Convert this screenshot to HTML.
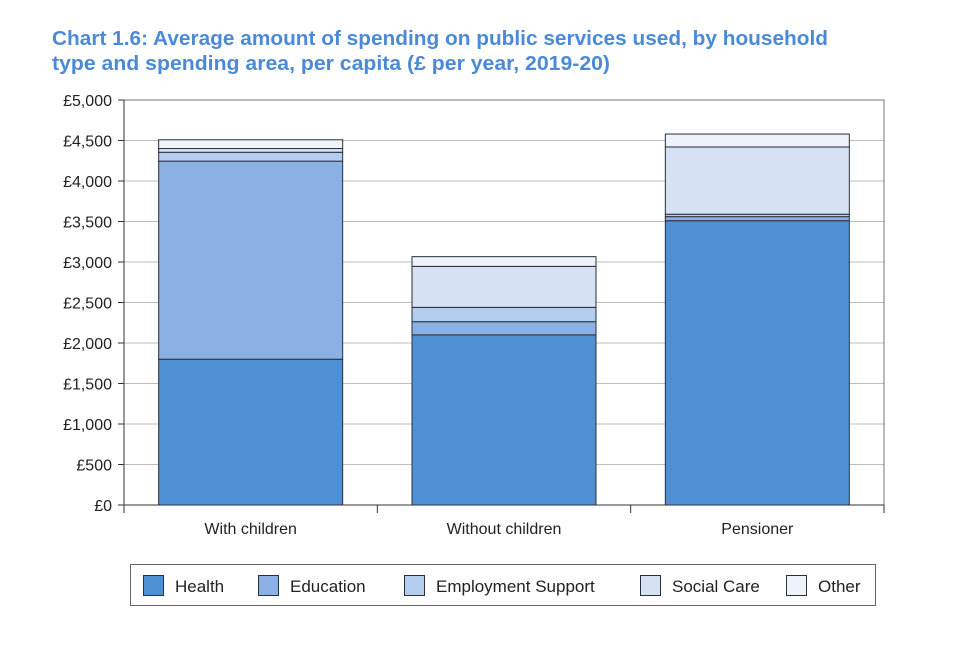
<!DOCTYPE html>
<html><head><meta charset="utf-8"><style>
body{margin:0;background:#fff;width:960px;height:640px;overflow:hidden;font-family:"Liberation Sans",sans-serif}
</style></head><body>
<svg width="960" height="640" xmlns="http://www.w3.org/2000/svg">
<text x="52" y="45" font-size="20" font-weight="bold" fill="#4a8ad8" textLength="776" lengthAdjust="spacingAndGlyphs">Chart 1.6: Average amount of spending on public services used, by household</text>
<text x="52" y="70" font-size="20" font-weight="bold" fill="#4a8ad8" textLength="558" lengthAdjust="spacingAndGlyphs">type and spending area, per capita (£ per year, 2019-20)</text>
<g id="grid"></g><g id="bars"></g><g id="axes"></g><g id="legend"></g>
</svg>
<script>
const categories=["With children","Without children","Pensioner"];
const seriesNames=["Health","Education","Employment Support","Social Care","Other"];
const health=[1800,2100,3510];
const education=[2445,163,50];
const employment=[110,177,30];
const socialCare=[46,506,830];
const other=[108,120,160];
const yTicks=[0,500,1000,1500,2000,2500,3000,3500,4000,4500,5000];
const colors=["#4f90d4","#8bb0e3","#b2cdee","#d6e1f3","#eef2f9"];
const NS="http://www.w3.org/2000/svg";
const L=124,R=884,T=100,B=505,YMAX=5000;
const y=v=>B-(v/YMAX)*(B-T);
const cw=(R-L)/categories.length;
const bw=184;
function mk(tag,attrs,parent){const e=document.createElementNS(NS,tag);for(const k in attrs)e.setAttribute(k,attrs[k]);parent.appendChild(e);return e;}
const grid=document.getElementById('grid'),bars=document.getElementById('bars'),axes=document.getElementById('axes'),leg=document.getElementById('legend');
yTicks.forEach(t=>{
  const g=mk('line',{x1:L,x2:R,y1:y(t),y2:y(t),stroke:'#bdbdbd','stroke-width':1},grid);
  
  
  const tk=mk('line',{x1:L-6,x2:L,y1:y(t),y2:y(t),stroke:'#333'},axes);
  
  
  const tx=mk('text',{x:L-12,y:y(t)+6,'text-anchor':'end','font-size':16,fill:'#222'},axes);
  tx.textContent='£'+t.toLocaleString('en-GB');
  
  
});
const frame=mk('rect',{x:L,y:T,width:R-L,height:B-T,fill:'none',stroke:'#777'},axes);


const ya=mk('line',{x1:L,x2:L,y1:T,y2:B,stroke:'#333'},axes);


const xa=mk('line',{x1:L,x2:R,y1:B,y2:B,stroke:'#333'},axes);


for(let i=0;i<=categories.length;i++){
  const t=mk('line',{x1:L+i*cw,x2:L+i*cw,y1:B,y2:B+8,stroke:'#333'},axes);
  
  
}
const series=[health,education,employment,socialCare,other];
categories.forEach((c,i)=>{
  const cx=L+cw*(i+0.5);let acc=0;
  series.forEach((s,j)=>{
    const v=s[i];
    const r=mk('rect',{x:cx-bw/2,y:y(acc+v),width:bw,height:y(acc)-y(acc+v),fill:colors[j],stroke:'#2a2f3a','stroke-width':1},bars);
    
    
    acc+=v;
  });
  const lb=mk('text',{x:cx,y:534,'text-anchor':'middle','font-size':16,fill:'#222'},axes);
  lb.textContent=c;
  
  
});
const lbox=mk('rect',{x:130.5,y:564.5,width:745,height:41,fill:'#fff',stroke:'#666'},leg);


const lx=[175,290,436,672,818];
seriesNames.forEach((n,j)=>{
  const sw=mk('rect',{x:lx[j]-31.5,y:575.5,width:20,height:20,fill:colors[j],stroke:'#2a2f3a'},leg);
  
  
  const t=mk('text',{x:lx[j],y:592,'font-size':17,fill:'#222'},leg);
  t.textContent=n;
  
  
});
</script>
</body></html>
